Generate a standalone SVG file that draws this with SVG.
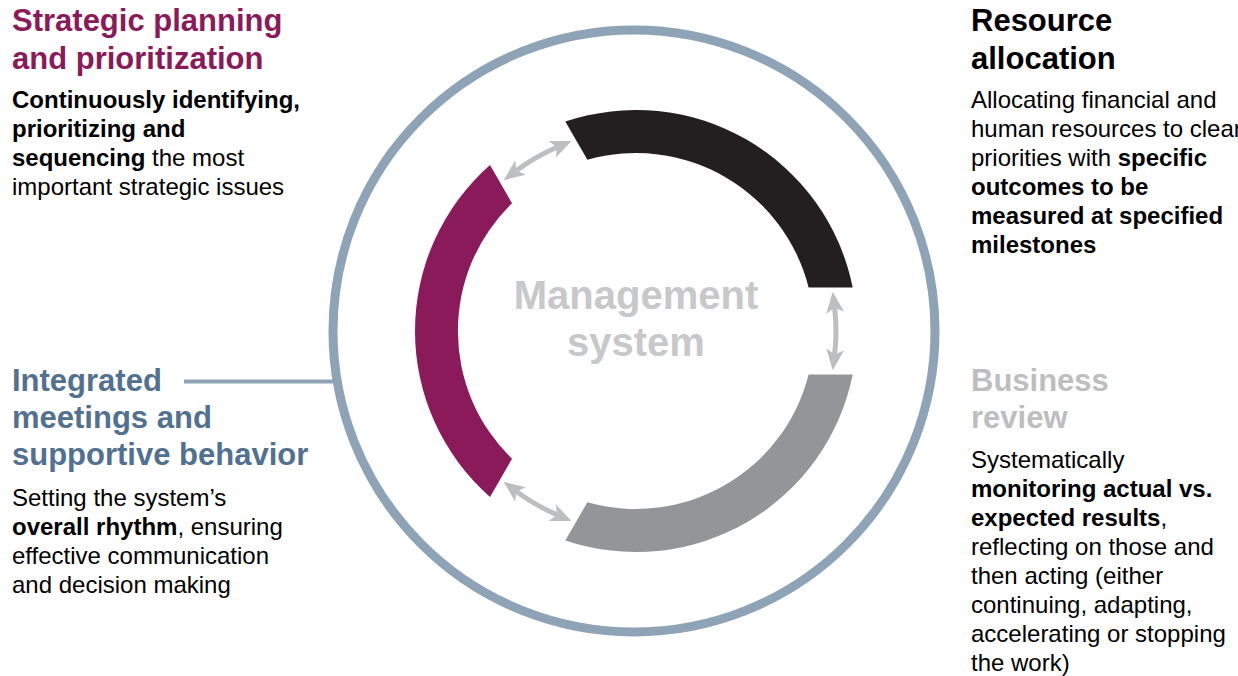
<svg xmlns="http://www.w3.org/2000/svg" width="1238" height="676" viewBox="0 0 1238 676">
<style>
text{font-family:"Liberation Sans",Arial,sans-serif;}
.h{font-size:31px;font-weight:bold;}
.b{font-size:24px;fill:#000;}
.bold{font-weight:bold;}
.arrow{fill:none;stroke:#bcbec0;stroke-width:5;marker-start:url(#ah);marker-end:url(#ah);}
.conn{stroke:#8fa3b6;fill:none;}
</style>
<defs>
<marker id="ah" markerUnits="userSpaceOnUse" markerWidth="21" markerHeight="18" viewBox="0 0 21 18" refX="5" refY="9" orient="auto-start-reverse">
<path d="M0,0 L21,9 L0,18 L5,9 z" fill="#bcbec0"/>
</marker>
</defs>
<rect width="1238" height="676" fill="#fff"/>
<g id="connectors">
<circle class="conn" cx="634" cy="331" r="301" stroke-width="9"/>
<line class="conn" x1="184" y1="381.5" x2="336" y2="381.5" stroke-width="4"/>
<path class="arrow" d="M834.6,307.7 A200,200 0 0 1 834.6,354.3"/>
<path class="arrow" d="M516.5,170.6 A200,200 0 0 1 556.9,147.3"/>
<path class="arrow" d="M516.5,491.4 A200,200 0 0 0 556.9,514.7"/>
</g>
<g id="ring-resource">
<path d="M565.3,121.6 A221,221 0 0 1 852.7,287.5 L808.6,287.5 A178,178 0 0 0 587.4,159.8 Z" fill="#231f20"/>
</g>
<g id="ring-strategic">
<path d="M490.0,165.1 A221,221 0 0 0 490.0,496.9 L512.0,458.8 A178,178 0 0 1 512.0,203.2 Z" fill="#8b1a5a"/>
</g>
<g id="ring-review">
<path d="M852.7,374.5 A221,221 0 0 1 565.3,540.4 L587.4,502.2 A178,178 0 0 0 808.6,374.5 Z" fill="#939598"/>
</g>
<g id="center">
<text x="636" y="309" font-size="40" font-weight="bold" fill="#c7c8ca" text-anchor="middle">Management</text>
<text x="636" y="356" font-size="40" font-weight="bold" fill="#c7c8ca" text-anchor="middle">system</text>
</g>
<g id="strategic">
<text class="h" x="12" y="31" fill="#8b1a5a">Strategic planning</text>
<text class="h" x="12" y="69" fill="#8b1a5a">and prioritization</text>
<text class="b" x="12" y="108"><tspan class="bold">Continuously identifying,</tspan></text>
<text class="b" x="12" y="137"><tspan class="bold">prioritizing and</tspan></text>
<text class="b" x="12" y="166"><tspan class="bold">sequencing</tspan> the most</text>
<text class="b" x="12" y="195">important strategic issues</text>
</g>
<g id="resource">
<text class="h" x="971" y="31" fill="#000">Resource</text>
<text class="h" x="971" y="69" fill="#000">allocation</text>
<text class="b" x="971" y="108">Allocating financial and</text>
<text class="b" x="971" y="137">human resources to clear</text>
<text class="b" x="971" y="166">priorities with <tspan class="bold">specific</tspan></text>
<text class="b" x="971" y="195"><tspan class="bold">outcomes to be</tspan></text>
<text class="b" x="971" y="224"><tspan class="bold">measured at specified</tspan></text>
<text class="b" x="971" y="253"><tspan class="bold">milestones</tspan></text>
</g>
<g id="integrated">
<text class="h" x="12" y="391" fill="#52708f">Integrated</text>
<text class="h" x="12" y="428" fill="#52708f">meetings and</text>
<text class="h" x="12" y="465" fill="#52708f">supportive behavior</text>
<text class="b" x="12" y="506">Setting the system’s</text>
<text class="b" x="12" y="535"><tspan class="bold">overall rhythm</tspan>, ensuring</text>
<text class="b" x="12" y="564">effective communication</text>
<text class="b" x="12" y="593">and decision making</text>
</g>
<g id="review">
<text class="h" x="971" y="391" fill="#bcbec0">Business</text>
<text class="h" x="971" y="428" fill="#bcbec0">review</text>
<text class="b" x="971" y="468">Systematically</text>
<text class="b" x="971" y="497"><tspan class="bold">monitoring actual vs.</tspan></text>
<text class="b" x="971" y="526"><tspan class="bold">expected results</tspan>,</text>
<text class="b" x="971" y="555">reflecting on those and</text>
<text class="b" x="971" y="584">then acting (either</text>
<text class="b" x="971" y="613">continuing, adapting,</text>
<text class="b" x="971" y="642">accelerating or stopping</text>
<text class="b" x="971" y="671">the work)</text>
</g>
</svg>
